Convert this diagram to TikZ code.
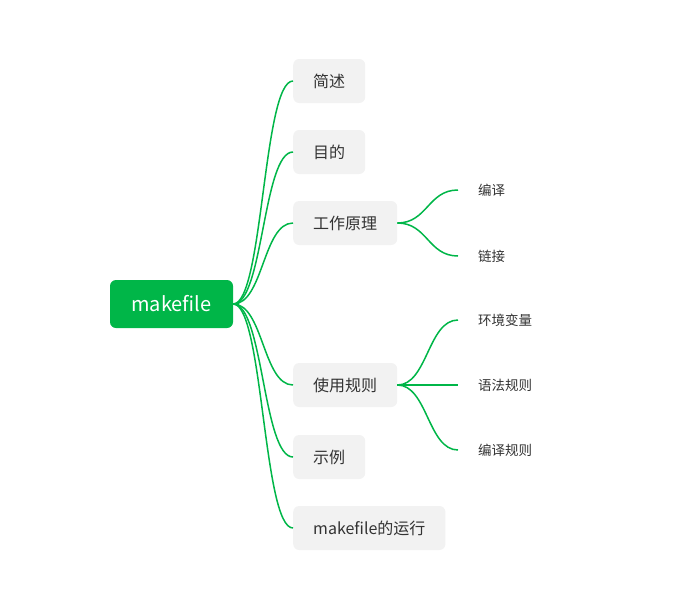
\documentclass[tikz,border=0pt]{standalone}
\usepackage{fontspec}
\setmainfont{Noto Sans CJK SC}
\definecolor{mgreen}{RGB}{0,182,72}
\definecolor{boxgray}{RGB}{242,242,242}
\definecolor{txt}{RGB}{51,51,51}
\begin{document}
\begin{tikzpicture}[x=1pt,y=-1pt,
  rootbox/.style={fill=mgreen, rounded corners=6pt, minimum width=123pt, minimum height=48pt, text=white, font=\fontsize{20}{24}\selectfont, inner sep=0pt},
  childbox/.style={fill=boxgray, rounded corners=6pt, minimum height=44pt, inner xsep=20pt, inner ysep=0pt, text=txt, font=\fontsize{16}{19}\selectfont, anchor=west},
  leafbox/.style={inner xsep=20pt, inner ysep=2pt, text=txt, font=\fontsize{13.5}{16}\selectfont, anchor=west},
  link/.style={draw=mgreen, line width=1.5pt}
]
\useasboundingbox (0,0) rectangle (700,595);
\node[rootbox] (root) at (171.5,304) {makefile};
\node[childbox] (c1) at (293,81) {简述};
\node[childbox] (c2) at (293,152) {目的};
\node[childbox] (c3) at (293,223) {工作原理};
\node[childbox] (c4) at (293,385) {使用规则};
\node[childbox] (c5) at (293,457) {示例};
\node[childbox] (c6) at (293,528) {makefile的运行};
\node[leafbox] (g1) at (458,190) {编译};
\node[leafbox] (g2) at (458,256) {链接};
\node[leafbox] (g3) at (458,320) {环境变量};
\node[leafbox] (g4) at (458,385) {语法规则};
\node[leafbox] (g5) at (458,450) {编译规则};
\foreach \c in {c1,c2,c3,c4,c5,c6}
  \draw[link] (root.east) .. controls +(30,0) and +(-30,0) .. (\c.west);
\foreach \g in {g1,g2}
  \draw[link] (c3.east) .. controls +(30,0) and +(-30,0) .. (\g.west);
\foreach \g in {g3,g4,g5}
  \draw[link] (c4.east) .. controls +(30,0) and +(-30,0) .. (\g.west);
\end{tikzpicture}
\end{document}
